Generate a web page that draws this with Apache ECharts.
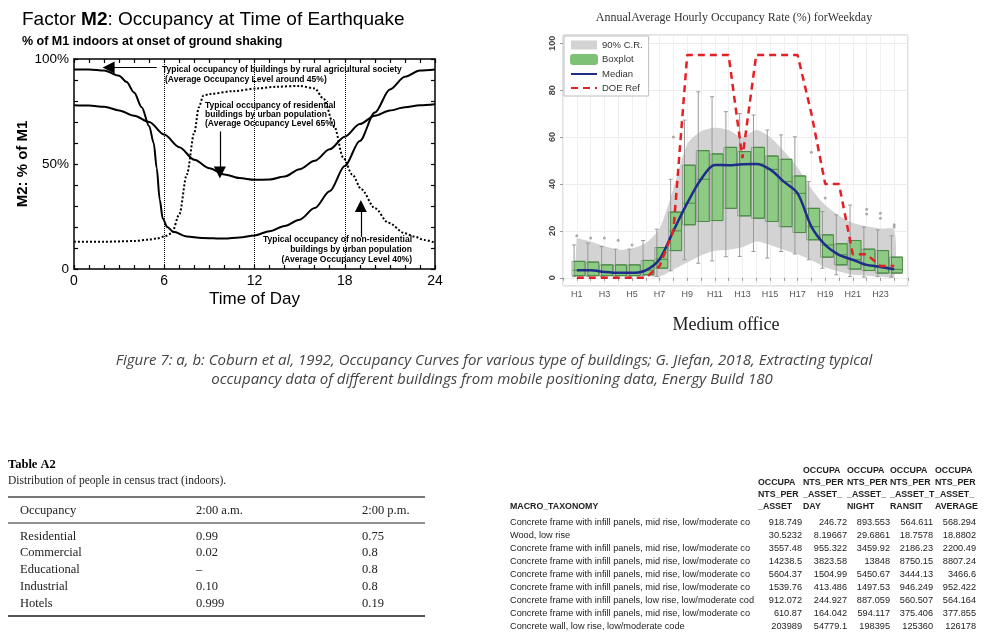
<!DOCTYPE html>
<html><head><meta charset="utf-8">
<script src="https://cdn.jsdelivr.net/npm/echarts@6/dist/echarts.min.js"></script>
<style>html,body{margin:0;padding:0;background:#fff}#c{width:984px;height:639px}</style>
</head><body><div id="c"></div>
<script>
// ---------- Left chart (Coburn et al.) ----------
const ruralX = [0, 1, 2, 3, 3.5, 4, 4.5, 5, 5.3, 5.5, 5.7, 5.9, 6.2, 6.6, 7.5, 8.5, 10, 11, 12, 13, 14, 15, 16, 17, 18, 19, 20, 21, 22, 23, 24];
const ruralY = [95, 95, 94.5, 92, 89, 84, 77, 68, 60, 48, 33, 24, 20, 17.7, 15.5, 14.8, 14.5, 15, 16, 18, 20.5, 23.5, 29, 37, 49, 61, 74.5, 85.5, 91.5, 94.5, 95];
const residentialX = [0,1,2,3,4,5,6,7,8,9,10,11,12,13,14,15,16,17,18,19,20,21,22,23,24];
const residentialY = [78,77.8,77.3,75.5,73,70,64,58,52,48,45,43.3,42.5,42.6,44,47.5,51.5,57,63,69,73,75.5,77,78,78.5];
const nonResX = [0, 2, 4, 5, 5.5, 6, 6.5, 7, 7.5, 8, 8.3, 8.6, 9, 10.6, 12.2, 13.5, 15, 16, 16.6, 17.3, 17.9, 18.5, 19.1, 20, 20.9, 22, 22.6, 23.3, 24];
const nonResY = [13, 13, 13.3, 14, 14.5, 15.5, 17, 26, 45, 65, 77, 82.5, 83.3, 84.7, 86, 86.8, 87.2, 86, 81, 68, 53, 45, 38, 29, 22, 17, 15.5, 13.8, 12.5];
const leftXLabels = [0, 6, 12, 18, 24];
const leftYLabels = {0: '0', 50: '50%', 100: '100%'};
const guideHours = [6, 12, 18];

// ---------- Right chart (Jiefan 2018) ----------
const hours = ['H1','H2','H3','H4','H5','H6','H7','H8','H9','H10','H11','H12','H13','H14','H15','H16','H17','H18','H19','H20','H21','H22','H23','H24'];
const boxMin = [0.5,0.5,0.5,0.5,0.5,0.8,0.5,3,7.7,6.2,7.2,9,9.1,11.2,8.4,11.2,10.2,7.7,4.1,1.3,0.6,0.3,0.5,0.3];
const boxQ1  = [0.9,0.9,0.9,0.9,0.9,1.3,4.1,11.6,22.6,24,24.4,29.6,26.4,25.4,24,21.8,19.3,16.2,8.8,5.5,3.7,3.1,2,2];
const boxMed = [3.2,3.2,2.5,2.1,2.1,3.2,7.9,20,31.8,42,48.1,48,48.4,48.5,46.2,41,36,21.8,14,9.8,7.7,5.5,4.6,3.6];
const boxQ3  = [7,6.7,5.5,5.5,5.5,7.4,12.9,28,48,54.2,52.8,55.6,53.8,55.6,51.9,50.5,43.4,29.6,18.3,14.5,15.9,12.2,11.6,8.8];
const boxMax = [14,14.8,13.3,12.2,12.2,15.9,20.7,42,67.2,79.3,77.2,70.8,70,69.4,63,60.9,60.1,41,28.2,26.8,31,21.6,20.4,17.9];
const outlierHour = [1, 2, 3, 4, 5, 8, 18, 19, 22, 22, 23, 23, 24, 24];
const outlierVal  = [17.9, 17, 17, 16, 14, 60, 53.5, 34, 29.2, 27.2, 27.5, 25.4, 22.6, 21.6];
const bandLow  = [0.9,0.9,0.9,0.9,0.9,0.9,0.5,3.5,6.5,9.5,11.5,12,13,15.5,14,12,10,7.5,4.5,2.7,1.3,0.9,0.5,0.5];
const bandHigh = [17,15.5,13.5,12,12.5,14.8,21,38,57,62.5,64,63,60,63,60,54,47,38,31,26.5,23.5,22,21,20.5];
const doeRef = [0,0,0,0,0,0,5,20,95,95,95,95,51,95,95,95,95,70,40,40,10,10,5,5];
const rightYLabels = [0, 20, 40, 60, 80, 100];

// ---------- Tables ----------
const a2Occupancy = ['Residential','Commercial','Educational','Industrial','Hotels'];
const a2Am = ['0.99','0.02','–','0.10','0.999'];
const a2Pm = ['0.75','0.8','0.8','0.8','0.19'];
const taxonomy = [
  'Concrete frame with infill panels, mid rise, low/moderate code',
  'Wood, low rise',
  'Concrete frame with infill panels, mid rise, low/moderate code',
  'Concrete frame with infill panels, mid rise, low/moderate code',
  'Concrete frame with infill panels, mid rise, low/moderate code',
  'Concrete frame with infill panels, mid rise, low/moderate code',
  'Concrete frame with infill panels, low rise, low/moderate code',
  'Concrete frame with infill panels, mid rise, low/moderate code',
  'Concrete wall, low rise, low/moderate code'
];
const perAsset   = ['918.749','30.5232','3557.48','14238.5','5604.37','1539.76','912.072','610.87','203989'];
const perDay     = ['246.72','8.19667','955.322','3823.58','1504.99','413.486','244.927','164.042','54779.1'];
const perNight   = ['893.553','29.6861','3459.92','13848','5450.67','1497.53','887.059','594.117','198395'];
const perTransit = ['564.611','18.7578','2186.23','8750.15','3444.13','946.249','560.507','375.406','125360'];
const perAverage = ['568.294','18.8802','2200.49','8807.24','3466.6','952.422','564.164','377.855','126178'];
const colHeaders = [
  ['OCCUPA','NTS_PER','_ASSET'],
  ['OCCUPA','NTS_PER','_ASSET_','DAY'],
  ['OCCUPA','NTS_PER','_ASSET_','NIGHT'],
  ['OCCUPA','NTS_PER','_ASSET_T','RANSIT'],
  ['OCCUPA','NTS_PER','_ASSET_','AVERAGE']
];

const SANS = '"Liberation Sans", Arial, sans-serif';
const SERIF = '"Liberation Serif", "Times New Roman", serif';

const zip = (xs, ys) => xs.map((x, i) => [x, ys[i]]);
const byHour = arr => arr.map((v, i) => [i + 1, v]);

const graphics = [];
function T(x, y, text, st) {
  graphics.push({type: 'text', x: x, y: y, silent: true, z: 100,
    style: Object.assign({text: text, fill: '#000', fontSize: 12, fontFamily: SANS,
      align: 'left', verticalAlign: 'middle'}, st || {})});
}
function L(x1, y1, x2, y2, w, c) {
  graphics.push({type: 'line', silent: true, z: 100, shape: {x1, y1, x2, y2},
    style: {stroke: c || '#000', lineWidth: w || 1}});
}

// Left chart titles & annotations
T(22, 20, 'Factor {b|M2}: Occupancy at Time of Earthquake', {fontSize: 19,
  rich: {b: {fontWeight: 'bold', fontSize: 19, fontFamily: SANS}}});
T(22, 42, '% of M1 indoors at onset of ground shaking', {fontSize: 12.5, fontWeight: 'bold'});
const annFont = {fontSize: 8.5, fontFamily: SANS, fontWeight: 'bold'};
T(162, 70, 'Typical occupancy of buildings by rural agricultural society', annFont);
T(165, 80, '(Average Occupancy Level around 45%)', annFont);
T(205, 106, 'Typical occupancy of residential', annFont);
T(205, 115, 'buildings by urban population', annFont);
T(205, 124, '(Average Occupancy Level 65%)', annFont);
T(412, 240, 'Typical occupancy of non-residential', Object.assign({align: 'right'}, annFont));
T(412, 250, 'buildings by urban population', Object.assign({align: 'right'}, annFont));
T(412, 260, '(Average Occupancy Level 40%)', Object.assign({align: 'right'}, annFont));

// Right chart titles
T(734, 18, 'AnnualAverage Hourly Occupancy Rate (%) forWeekday', {fontSize: 12, fontFamily: SERIF, fill: '#333', align: 'center'});
T(726, 325, 'Medium office', {fontSize: 18, fontFamily: SERIF, fill: '#222', align: 'center'});

// Caption
const capStyle = {fontSize: 15, fontFamily: '"Open Sans", Lato, sans-serif', fontStyle: 'italic', fill: '#444', align: 'center'};
T(494, 361, 'Figure 7: a, b: Coburn et al, 1992, Occupancy Curves for various type of buildings; G. Jiefan, 2018, Extracting typical', capStyle);
T(492, 380, 'occupancy data of different buildings from mobile positioning data, Energy Build 180', capStyle);

// Table A2
T(8, 465, 'Table A2', {fontSize: 12.5, fontFamily: SERIF, fontWeight: 'bold'});
T(8, 481, 'Distribution of people in census tract (indoors).', {fontSize: 11.5, fontFamily: SERIF, fill: '#222'});
L(8, 497, 425, 497, 2, '#777');
T(20, 511, 'Occupancy', {fontSize: 12.5, fontFamily: SERIF, fill: '#222'});
T(196, 511, '2:00 a.m.', {fontSize: 12.5, fontFamily: SERIF, fill: '#222'});
T(362, 511, '2:00 p.m.', {fontSize: 12.5, fontFamily: SERIF, fill: '#222'});
L(8, 523, 425, 523, 1.2, '#222');
a2Occupancy.forEach((name, i) => {
  const y = 536.5 + i * 16.7;
  T(20, y, name, {fontSize: 12.5, fontFamily: SERIF, fill: '#222'});
  T(196, y, a2Am[i], {fontSize: 12.5, fontFamily: SERIF, fill: '#222'});
  T(362, y, a2Pm[i], {fontSize: 12.5, fontFamily: SERIF, fill: '#222'});
});
L(8, 616, 425, 616, 2, '#555');

// Right table
const colRight = [802, 847, 890, 933, 976];
const colLeft = [758, 803, 847, 890, 935];
const hdr = {fontSize: 8.8, fontFamily: SANS, fontWeight: 'bold', fill: '#222'};
colHeaders.forEach((lines, c) => {
  lines.forEach((t, k) => {
    const y = 507 - (lines.length - 1 - k) * 12.3;
    T(colLeft[c], y, t, hdr);
  });
});
T(510, 507, 'MACRO_TAXONOMY', hdr);
const cols = [perAsset, perDay, perNight, perTransit, perAverage];
const cell = {fontSize: 9.2, fontFamily: SANS, fill: '#222'};
taxonomy.forEach((t, r) => {
  const y = 522 + r * 13;
  T(510, y, t, Object.assign({width: 247, overflow: 'truncate', ellipsis: ''}, cell));
  cols.forEach((col, c) => T(colRight[c], y, col[r], Object.assign({align: 'right'}, cell)));
});

const blackAxis = {onZero: false, lineStyle: {color: '#000', width: 1.5}};
const inTick = {inside: true, length: 4, lineStyle: {color: '#000', width: 1.2}};

const option = {
  animation: false,
  backgroundColor: '#fff',
  grid: [
    {left: 74, top: 59, width: 361, height: 210, show: false},
    {left: 563, top: 35, width: 345, height: 251, show: true, borderColor: '#c4c4c4', borderWidth: 1, backgroundColor: '#fff'}
  ],
  legend: {
    data: [
      {name: '90% C.R.', icon: 'rect', itemStyle: {color: '#d3d3d3'}},
      {name: 'Boxplot', icon: 'roundRect', itemStyle: {color: '#7cc175', borderColor: '#7cc175'}},
      {name: 'Median', itemStyle: {opacity: 0}},
      {name: 'DOE Ref', itemStyle: {opacity: 0}}
    ],
    orient: 'vertical', left: 564, top: 36, itemWidth: 26, itemHeight: 9, itemGap: 4,
    selectedMode: false, backgroundColor: '#fff', borderColor: '#bdbdbd', borderWidth: 1,
    padding: [4, 6, 3, 6], textStyle: {fontSize: 9.5, color: '#333', fontFamily: SANS}
  },
  xAxis: [
    {gridIndex: 0, type: 'value', min: 0, max: 24, interval: 1, position: 'bottom',
     axisLine: blackAxis, axisTick: inTick, splitLine: {show: false},
     axisLabel: {formatter: v => leftXLabels.includes(v) ? String(v) : '', fontSize: 14, color: '#000', margin: 5, fontFamily: SANS},
     name: 'Time of Day', nameLocation: 'middle', nameGap: 22, nameTextStyle: {fontSize: 17, color: '#000', fontFamily: SANS}},
    {gridIndex: 0, type: 'value', min: 0, max: 24, interval: 1, position: 'top',
     axisLine: blackAxis, axisTick: inTick, axisLabel: {show: false}, splitLine: {show: false}},
    {gridIndex: 1, type: 'value', min: 0, max: 25, interval: 1,
     axisLine: {show: false}, axisTick: {show: true, length: 3, lineStyle: {color: '#999'}},
     axisLabel: {formatter: v => (v >= 1 && v <= 24 && v % 2 === 1) ? hours[v - 1] : '', fontSize: 9, color: '#555', margin: 4, fontFamily: SANS},
     splitLine: {show: true, lineStyle: {color: '#f0f0f0'}}}
  ],
  yAxis: [
    {gridIndex: 0, type: 'value', min: 0, max: 100, interval: 10,
     axisLine: blackAxis, axisTick: inTick, splitLine: {show: false},
     axisLabel: {formatter: v => leftYLabels[v] || '', fontSize: 13.5, color: '#000', margin: 5, fontFamily: SANS},
     name: 'M2: % of M1', nameLocation: 'middle', nameRotate: 90, nameGap: 23,
     nameTextStyle: {fontSize: 15, fontWeight: 'bold', color: '#000', fontFamily: SANS}},
    {gridIndex: 0, type: 'value', min: 0, max: 100, interval: 10, position: 'right',
     axisLine: blackAxis, axisTick: inTick, axisLabel: {show: false}, splitLine: {show: false}},
    {gridIndex: 1, type: 'value', min: -3.5, max: 103.5, splitNumber: 5,
     axisLine: {show: false}, axisTick: {show: true, length: 3, lineStyle: {color: '#999'}},
     axisLabel: {rotate: 90, showMinLabel: false, showMaxLabel: false, fontSize: 9, color: '#444', fontWeight: 'bold', margin: 6, fontFamily: SANS,
       formatter: v => rightYLabels.includes(v) ? String(v) : ''},
     splitLine: {show: true, lineStyle: {color: '#ececec'}}}
  ],
  series: [
    // left chart
    {type: 'line', name: 'rural', xAxisIndex: 0, yAxisIndex: 0, data: zip(ruralX, ruralY), symbol: 'none',
     smooth: 0.3, smoothMonotone: 'x', lineStyle: {color: '#000', width: 2},
     markLine: {silent: true, symbol: ['none', 'none'], label: {show: false},
       lineStyle: {color: '#000', type: 'dotted', width: 1},
       data: guideHours.map(h => ({xAxis: h}))}},
    {type: 'line', name: 'residential', xAxisIndex: 0, yAxisIndex: 0, data: zip(residentialX, residentialY), symbol: 'none',
     smooth: 0.3, smoothMonotone: 'x', lineStyle: {color: '#000', width: 2},
     markLine: {silent: true, symbol: ['none', 'triangle'], symbolSize: 12, label: {show: false},
       lineStyle: {color: '#000', type: 'solid', width: 1.2},
       data: [[{coord: [9.7, 65.5]}, {coord: [9.7, 46]}]]}},
    {type: 'line', name: 'nonres', xAxisIndex: 0, yAxisIndex: 0, data: zip(nonResX, nonResY), symbol: 'none',
     smooth: 0.3, smoothMonotone: 'x', lineStyle: {color: '#000', width: 2, type: 'dotted'},
     markLine: {silent: true, symbol: ['none', 'triangle'], symbolSize: 12, label: {show: false},
       lineStyle: {color: '#000', type: 'solid', width: 1.2},
       data: [[{coord: [5.5, 96]}, {coord: [2.3, 96]}], [{coord: [19.07, 15.3]}, {coord: [19.07, 30]}]]}},
    // right chart
    {type: 'custom', name: '90% C.R.', xAxisIndex: 2, yAxisIndex: 2, data: byHour(bandHigh),
     itemStyle: {color: '#d3d3d3'}, z: 1, silent: true,
     renderItem: (params, api) => {
       if (params.dataIndex !== 0) return null;
       const top = bandHigh.map((v, i) => api.coord([i + 1, v]));
       const bot = bandLow.map((v, i) => api.coord([i + 1, v])).reverse();
       return {type: 'group', children: [
         {type: 'polyline', shape: {points: top.concat(bot).concat([top[0]]), smooth: 0.25}, style: {fill: '#d3d3d3', stroke: null}}
       ]};
     }},
    {type: 'boxplot', name: 'whiskers', xAxisIndex: 2, yAxisIndex: 2,
     data: hours.map((h, i) => [i + 1, boxMin[i], boxQ1[i], boxMed[i], boxQ3[i], boxMax[i]]),
     boxWidth: [4, 4], itemStyle: {color: 'rgba(0,0,0,0)', borderColor: '#9a9a9a', borderWidth: 1}, z: 2, silent: true},
    {type: 'boxplot', name: 'Boxplot', xAxisIndex: 2, yAxisIndex: 2,
     data: hours.map((h, i) => [i + 1, boxQ1[i], boxQ1[i], boxMed[i], boxQ3[i], boxQ3[i]]),
     boxWidth: [11, 11], itemStyle: {color: '#8dca84', borderColor: '#4c8a47', borderWidth: 1}, z: 3, silent: true},
    {type: 'scatter', name: 'outliers', xAxisIndex: 2, yAxisIndex: 2, data: zip(outlierHour, outlierVal),
     symbolSize: 3, itemStyle: {color: '#999'}, z: 3, silent: true},
    {type: 'line', name: 'Median', xAxisIndex: 2, yAxisIndex: 2, data: byHour(boxMed), symbol: 'none',
     smooth: 0.3, lineStyle: {color: '#1f2d8a', width: 2.5}, itemStyle: {color: '#1f2d8a'}, z: 4, silent: true},
    {type: 'line', name: 'DOE Ref', xAxisIndex: 2, yAxisIndex: 2, data: byHour(doeRef), symbol: 'none',
     lineStyle: {color: '#e41f26', width: 2.5, type: [7, 5]}, itemStyle: {color: '#e41f26'}, z: 5, silent: true}
  ],
  graphic: graphics
};

const chart = echarts.init(document.getElementById('c'));
chart.setOption(option);
</script>
</body></html>
